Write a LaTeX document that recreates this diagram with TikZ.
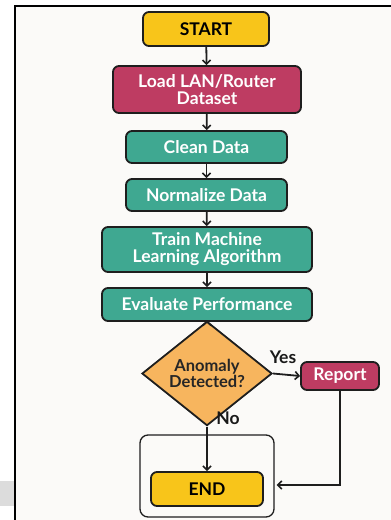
\documentclass[tikz,border=0pt]{standalone}
\usepackage{fontspec}
\setmainfont{Lato}
\usetikzlibrary{shapes.geometric,arrows.meta}
\definecolor{pagebg}{HTML}{FBFAF8}
\definecolor{bandgray}{HTML}{DCDCDC}
\definecolor{startyellow}{HTML}{F8C51A}
\definecolor{crimson}{HTML}{BE3C62}
\definecolor{teal}{HTML}{3FA891}
\definecolor{decorange}{HTML}{F7B55E}
\definecolor{edge}{HTML}{1E1E1E}
\tikzset{
  box/.style={draw=edge, line width=1.8pt, rounded corners=6pt, inner sep=0pt,
    align=center, font=\bfseries\fontsize{17.5}{17}\selectfont},
  termbox/.style={box, fill=startyellow, text=black},
  redbox/.style={box, fill=crimson, text=white},
  tealbox/.style={box, fill=teal, text=white},
  decision/.style={diamond, draw=edge, line width=1.8pt, fill=decorange, inner sep=0pt,
    align=center, font=\bfseries\fontsize{16.5}{15}\selectfont, text=black!85},
  flow/.style={draw=edge, line width=1.8pt, -{Straight Barb[length=4pt,width=8pt,line width=1.6pt]}},
  tag/.style={font=\bfseries\fontsize{17.5}{18}\selectfont, text=black!90}
}
\begin{document}
\begin{tikzpicture}[x=1pt, y=-1pt]
  \useasboundingbox (0,0) rectangle (391,520);
  \fill[white] (0,0) rectangle (391,520);
  \fill[pagebg] (14.5,5.5) rectangle (391,520);
  \fill[bandgray] (0,481) rectangle (13.5,506);
  \draw[black, line width=2pt] (391,5.5) -- (14.5,5.5) -- (14.5,520);

  % process steps
  \node[termbox, minimum width=126pt, minimum height=34pt] (start) at (206,29) {START};
  \node[redbox, minimum width=188pt, minimum height=47pt] (load) at (207,89.5) {Load LAN/Router\\Dataset};
  \node[tealbox, minimum width=161pt, minimum height=32pt] (clean) at (206.5,147) {Clean Data};
  \node[tealbox, minimum width=161pt, minimum height=32pt] (norm) at (206.5,195) {Normalize Data};
  \node[tealbox, minimum width=210pt, minimum height=45pt] (train) at (207,249.5) {Train Machine\\Learning Algorithm};
  \node[tealbox, minimum width=210pt, minimum height=33pt] (eval) at (207,304.5) {Evaluate Performance};
  \node[decision, minimum width=130pt, minimum height=71pt] (dec) at (207,373.5) {Anomaly\\Detected?};
  \node[redbox, minimum width=78pt, minimum height=28pt] (report) at (340,376) {Report};

  % end group
  \node[draw=edge, line width=1.3pt, rounded corners=8pt, minimum width=134pt, minimum height=82pt, inner sep=0pt] (endgrp) at (207,476) {};
  \node[termbox, minimum width=112pt, minimum height=34pt] (endn) at (207,489) {END};

  % connectors
  \draw[flow] (start) -- (load);
  \draw[flow] (load) -- (clean);
  \draw[flow] (clean) -- (norm);
  \draw[flow] (norm) -- (train);
  \draw[flow] (train) -- (eval);
  \draw[flow] (eval) -- (dec.north);
  \draw[flow] (dec.east) -- (report.west);
  \draw[flow] (dec.south) -- (endn.north);
  \draw[flow] (report.south) |- ([yshift=-9pt, xshift=2pt]endgrp.east);

  \node[tag] (yes) at (283,357) {Yes};
  \node[tag] (no) at (228,418) {No};
\end{tikzpicture}
\end{document}
